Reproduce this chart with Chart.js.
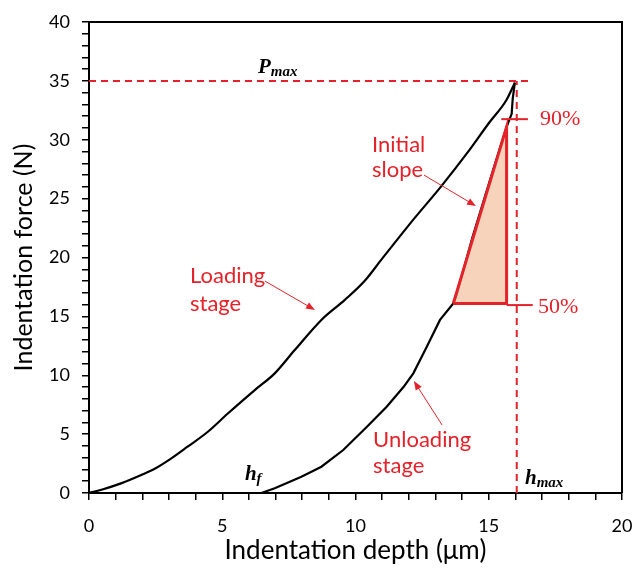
<!DOCTYPE html>
<html>
<head>
<meta charset="utf-8">
<script src="https://cdn.jsdelivr.net/npm/chart.js@4/dist/chart.umd.min.js"></script>
<style>
html,body{margin:0;padding:0;background:#fff;}
#wrap{width:636px;height:572px;}
</style>
</head>
<body>
<div id="wrap"><canvas id="c" width="636" height="572"></canvas></div>
<script>
// ---- data ----
const loadX = [0.0, 0.5, 1.2, 1.96, 2.5, 3.09, 3.7, 4.46, 5.22, 6.22, 6.97, 7.72, 8.72, 9.6, 10.34, 11.0, 12.2, 13.2, 14.2, 15.0, 15.67, 15.98];
const loadY = [0.0, 0.3, 0.82, 1.53, 2.1, 2.94, 3.93, 5.2, 6.77, 8.74, 10.16, 12.14, 14.7, 16.4, 18.0, 19.9, 23.3, 26.0, 28.9, 31.4, 33.4, 34.85];
const unloadX = [15.98, 15.9, 15.86, 15.67, 15.05, 14.4, 13.8, 13.67, 13.17, 12.67, 12.17, 11.8, 11.17, 10.42, 9.54, 8.72, 7.97, 6.97, 6.47];
const unloadY = [34.85, 33.5, 32.2, 31.1, 26.6, 21.8, 16.9, 16.1, 14.7, 12.4, 10.16, 9.0, 7.33, 5.6, 3.65, 2.23, 1.38, 0.4, 0.0];
const triX = [13.67, 15.67, 15.67, 13.67];
const triY = [16.1, 16.1, 31.1, 16.1];
const pmaxX = [0, 16.55];
const pmaxY = [35, 35];
const hmaxX = [16.05, 16.05];
const hmaxY = [0, 35];
const mark90X = [15.47, 16.47];
const mark90Y = [31.75, 31.75];
const mark50X = [15.67, 16.65];
const mark50Y = [15.96, 15.96];
const xTickLabels = [0, 5, 10, 15, 20];
const yTickLabels = [0, 5, 10, 15, 20, 25, 30, 35, 40];
const xTitle = 'Indentation depth (μm)';
const yTitle = 'Indentation force (N)';
// annotation texts: [text, x, y] in data units (left edge, baseline)
const redLabels = [
  ['Loading', 3.79, 17.83], ['stage', 3.79, 15.46],
  ['Initial', 10.62, 28.96], ['slope', 10.62, 26.84],
  ['Unloading', 10.66, 3.91], ['stage', 10.66, 1.70]
];
const pctLabels = [['90%', 16.92, 31.25], ['50%', 16.85, 15.29]];
const symLabels = [['P', 'max', 6.34, 35.67], ['h', 'f', 5.85, 1.10], ['h', 'max', 16.36, 0.76]];
const arrows = [[6.60, 18.0, 8.48, 15.54], [12.57, 27.0, 14.52, 24.37], [13.25, 5.77, 12.19, 9.51]];

const RED = '#e4222a';
const pts = (xs, ys) => xs.map((x, i) => ({x: x, y: ys[i]}));

const annot = {
  id: 'annot',
  afterDatasetsDraw(chart) {
    const ctx = chart.ctx, xs = chart.scales.x, ys = chart.scales.y;
    const a = chart.chartArea;
    ctx.save();
    ctx.strokeStyle = '#000'; ctx.lineWidth = 2;
    ctx.beginPath();
    ctx.moveTo(a.left, a.top); ctx.lineTo(a.right, a.top); ctx.lineTo(a.right, a.bottom);
    ctx.stroke();
    ctx.strokeStyle = RED; ctx.fillStyle = RED; ctx.lineWidth = 1;
    arrows.forEach(([x1, y1, x2, y2]) => {
      const p1 = [xs.getPixelForValue(x1), ys.getPixelForValue(y1)];
      const p2 = [xs.getPixelForValue(x2), ys.getPixelForValue(y2)];
      const ang = Math.atan2(p2[1] - p1[1], p2[0] - p1[0]);
      ctx.beginPath(); ctx.moveTo(p1[0], p1[1]);
      ctx.lineTo(p2[0] - 7 * Math.cos(ang), p2[1] - 7 * Math.sin(ang)); ctx.stroke();
      ctx.beginPath();
      ctx.moveTo(p2[0], p2[1]);
      ctx.lineTo(p2[0] - 9 * Math.cos(ang) + 3.5 * Math.sin(ang), p2[1] - 9 * Math.sin(ang) - 3.5 * Math.cos(ang));
      ctx.lineTo(p2[0] - 9 * Math.cos(ang) - 3.5 * Math.sin(ang), p2[1] - 9 * Math.sin(ang) + 3.5 * Math.cos(ang));
      ctx.closePath(); ctx.fill();
    });
    ctx.textBaseline = 'alphabetic'; ctx.textAlign = 'left';
    ctx.font = '22px Lato';
    redLabels.forEach(([t, x, y]) => ctx.fillText(t, xs.getPixelForValue(x), ys.getPixelForValue(y)));
    ctx.font = '22px "Liberation Serif"';
    pctLabels.forEach(([t, x, y]) => ctx.fillText(t, xs.getPixelForValue(x), ys.getPixelForValue(y)));
    ctx.fillStyle = '#000';
    symLabels.forEach(([m, s, x, y]) => {
      const px = xs.getPixelForValue(x), py = ys.getPixelForValue(y);
      ctx.font = 'italic bold 21px "Liberation Serif"';
      ctx.fillText(m, px, py);
      const w = ctx.measureText(m).width;
      ctx.font = 'italic bold 15px "Liberation Serif"';
      ctx.fillText(s, px + w, py + 3);
    });
    ctx.restore();
  }
};

const tickCb = (list) => (v) => list.includes(v) ? String(v) : '';

new Chart(document.getElementById('c'), {
  type: 'scatter',
  data: {
    datasets: [
      {data: pts(triX, triY), showLine: true, borderColor: RED, borderWidth: 3, pointRadius: 0,
       fill: 'shape', backgroundColor: 'rgba(243,187,152,0.65)', order: 0},
      {data: pts(mark90X, mark90Y), showLine: true, borderColor: RED, borderWidth: 2, pointRadius: 0, order: 1},
      {data: pts(mark50X, mark50Y), showLine: true, borderColor: RED, borderWidth: 2, pointRadius: 0, order: 1},
      {data: pts(pmaxX, pmaxY), showLine: true, borderColor: RED, borderWidth: 2, borderDash: [7, 5], pointRadius: 0, order: 2},
      {data: pts(hmaxX, hmaxY), showLine: true, borderColor: RED, borderWidth: 2, borderDash: [7, 5], pointRadius: 0, order: 2},
      {data: pts(loadX, loadY), showLine: true, borderColor: '#000', borderWidth: 2.2, pointRadius: 0, order: 5,
       cubicInterpolationMode: 'monotone'},
      {data: pts(unloadX, unloadY), showLine: true, borderColor: '#000', borderWidth: 2.2, pointRadius: 0, order: 5}
    ]
  },
  options: {
    responsive: false,
    animation: false,
    events: [],
    layout: {padding: {top: 22, right: 14, left: 0, bottom: 0}},
    plugins: {legend: {display: false}, tooltip: {enabled: false}},
    scales: {
      x: {
        type: 'linear', min: 0, max: 20,
        afterFit: (s) => { s.height = 79; s.paddingRight = 0; s.paddingLeft = 0; },
        border: {display: true, color: '#000', width: 2},
        grid: {drawOnChartArea: false, tickLength: 7, color: '#000', lineWidth: 1.5},
        ticks: {stepSize: 1, autoSkip: false, maxRotation: 0, callback: tickCb(xTickLabels),
                color: '#000', font: {family: 'Lato', size: 18}, padding: 15},
        title: {display: true, text: xTitle, color: '#000', font: {family: 'Lato', size: 26}, padding: {top: 4, bottom: 6}}
      },
      y: {
        type: 'linear', min: 0, max: 40,
        afterFit: (s) => { s.width = 89; s.paddingTop = 0; s.paddingBottom = 0; },
        border: {display: true, color: '#000', width: 2},
        grid: {drawOnChartArea: false, tickLength: 7, color: '#000', lineWidth: 1.5},
        ticks: {stepSize: 1, autoSkip: false, callback: tickCb(yTickLabels),
                color: '#000', font: {family: 'Lato', size: 18}, padding: 12},
        title: {display: true, text: yTitle, color: '#000', font: {family: 'Lato', size: 25}, padding: {top: 9, bottom: 4}}
      }
    }
  },
  plugins: [annot]
});
</script>
</body>
</html>
